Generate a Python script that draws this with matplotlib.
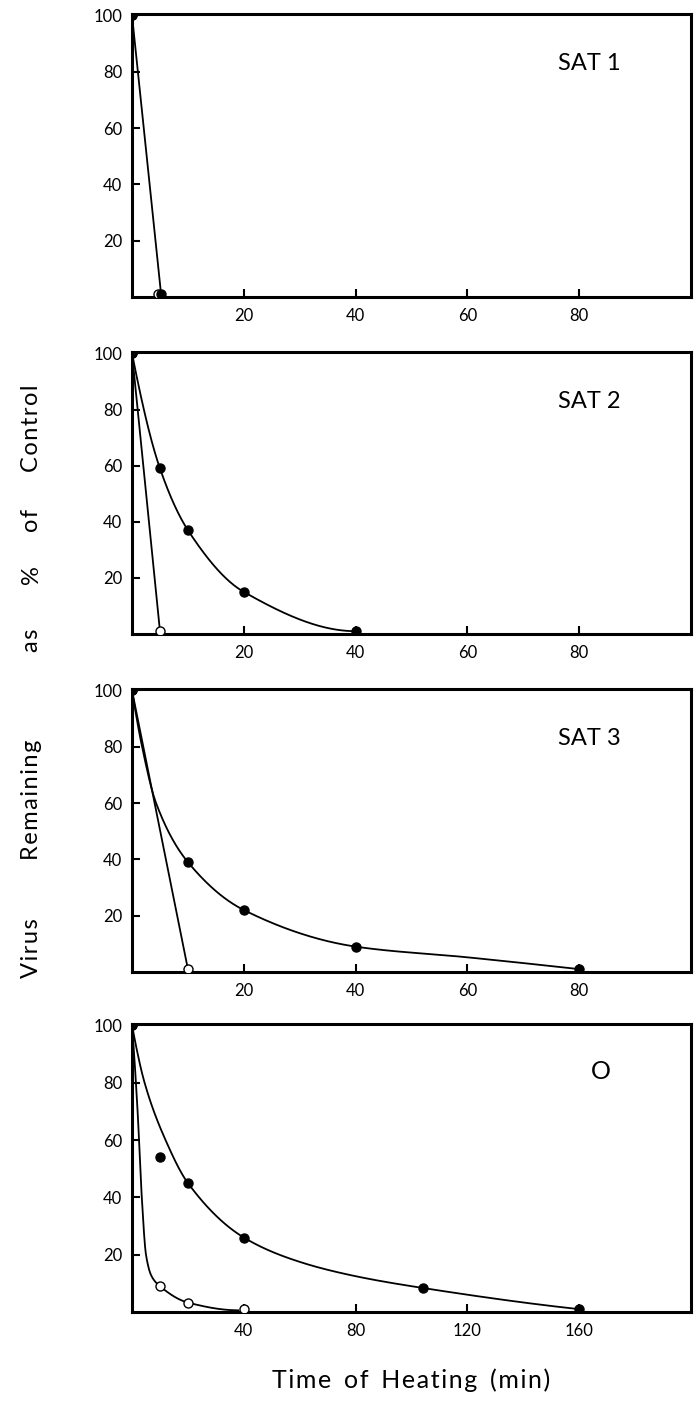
import numpy as np
import matplotlib
matplotlib.use("Agg")
import matplotlib.pyplot as plt

plt.rcParams['font.family'] = ['Lato', 'DejaVu Sans']

# SAT 1
sat1_filled_x = [0, 5.2]
sat1_filled_y = [100, 1]
sat1_open_x = [0, 4.6]
sat1_open_y = [100, 1]

# SAT 2
sat2_filled_x = [0, 5, 10, 20, 40]
sat2_filled_y = [100, 59, 37, 15, 1]
sat2_open_x = [0, 5]
sat2_open_y = [100, 1]

# SAT 3
sat3_filled_x = [0, 10, 20, 40, 80]
sat3_filled_y = [100, 39, 22, 9, 1]
sat3_open_x = [0, 10]
sat3_open_y = [100, 1]
# drawn fit curve
sat3_curve_x = [0, 1.8, 4.3, 10, 20, 40, 60, 80]
sat3_curve_y = [100, 80, 60, 39, 22, 9, 5.2, 1]

# type O
o_filled_x = [0, 10, 20, 40, 104, 160]
o_filled_y = [100, 54, 45, 26, 8.4, 1]
o_open_x = [0, 10, 20, 40]
o_open_y = [100, 9, 3.3, 1]
o_curve_x = [0, 4.5, 12, 20, 40, 60, 80, 104, 160]
o_curve_y = [100, 80, 60, 45, 26, 17.5, 12.5, 8.4, 1]
o_open_curve_x = [0, 2, 3.5, 5, 7, 10, 20, 38]
o_open_curve_y = [100, 70, 40, 20, 12.5, 9, 3.3, 0.6]

labels = ['SAT 1', 'SAT 2', 'SAT 3', 'O']
y_ticks = [20, 40, 60, 80, 100]


def pchip(xk, yk, xs):
    # monotone cubic through the knots, so the curve is smooth like the drawn one
    xk = np.asarray(xk, float)
    yk = np.asarray(yk, float)
    h = np.diff(xk)
    d = np.diff(yk) / h
    n = len(xk)
    m = np.zeros(n)
    if n == 2:
        m[:] = d[0]
    else:
        for k in range(1, n - 1):
            if d[k - 1] * d[k] <= 0:
                m[k] = 0
            else:
                w1 = 2 * h[k] + h[k - 1]
                w2 = h[k] + 2 * h[k - 1]
                m[k] = (w1 + w2) / (w1 / d[k - 1] + w2 / d[k])

        def end(h0, h1, d0, d1):
            s = ((2 * h0 + h1) * d0 - h0 * d1) / (h0 + h1)
            if np.sign(s) != np.sign(d0):
                return 0.0
            if np.sign(d0) != np.sign(d1) and abs(s) > abs(3 * d0):
                return 3 * d0
            return s
        m[0] = end(h[0], h[1], d[0], d[1])
        m[-1] = end(h[-1], h[-2], d[-1], d[-2])
    xs = np.asarray(xs, float)
    i = np.clip(np.searchsorted(xk, xs) - 1, 0, n - 2)
    t = (xs - xk[i]) / h[i]
    h00 = 2 * t**3 - 3 * t**2 + 1
    h10 = t**3 - 2 * t**2 + t
    h01 = -2 * t**3 + 3 * t**2
    h11 = t**3 - t**2
    return h00 * yk[i] + h10 * h[i] * m[i] + h01 * yk[i + 1] + h11 * h[i] * m[i + 1]


def smooth(ax, xk, yk):
    xs = np.linspace(xk[0], xk[-1], 400)
    ax.plot(xs, pchip(xk, yk, xs), color='black', lw=1.3, zorder=2)


def spaced(s):
    # the original lettering is slightly letter-spaced
    return '\u200a'.join(s)


fig = plt.figure(figsize=(6.97, 14.07), dpi=100)
left, width = 0.1894, 0.802
bottoms = [0.7889, 0.5494, 0.3092, 0.0675]
heights = [0.2011, 0.2004, 0.2011, 0.2047]

panels = [
    (sat1_filled_x, sat1_filled_y, sat1_open_x, sat1_open_y, sat1_filled_x, sat1_filled_y, None, None),
    (sat2_filled_x, sat2_filled_y, sat2_open_x, sat2_open_y, sat2_filled_x, sat2_filled_y, sat2_open_x, sat2_open_y),
    (sat3_filled_x, sat3_filled_y, sat3_open_x, sat3_open_y, sat3_curve_x, sat3_curve_y, sat3_open_x, sat3_open_y),
    (o_filled_x, o_filled_y, o_open_x, o_open_y, o_curve_x, o_curve_y, o_open_curve_x, o_open_curve_y),
]

for i, (fx, fy, ox, oy, cx, cy, ocx, ocy) in enumerate(panels):
    ax = fig.add_axes([left, bottoms[i], width, heights[i]])
    smooth(ax, cx, cy)
    if ocx is not None:
        smooth(ax, ocx, ocy)
    ax.plot(ox, oy, 'o', mfc='white', mec='black', mew=1.0, ms=6.5, zorder=3)
    ax.plot(fx, fy, 'o', color='black', ms=6.5, zorder=4)

    if i < 3:
        ax.set_xlim(0, 100)
        ax.set_xticks([20, 40, 60, 80])
        ax.text(0.762, 0.826, labels[i], transform=ax.transAxes,
                fontsize=17, ha='left', va='center')
    else:
        ax.set_xlim(0, 200)
        ax.set_xticks([40, 80, 120, 160])
        ax.text(0.838, 0.834, labels[i], transform=ax.transAxes,
                fontsize=18, ha='center', va='center')
    ax.set_ylim(0, 100.5)
    ax.set_yticks(y_ticks)
    for s in ax.spines.values():
        s.set_linewidth(2.2)
    ax.tick_params(direction='in', length=6, width=1.5, labelsize=12)
    ax.tick_params(axis='x', pad=8)
    ax.tick_params(axis='y', pad=7)

fig.text(0.59, 0.019, spaced('Time') + '  ' + spaced('of') + '  '
         + spaced('Heating') + '  ' + spaced('(min)'), fontsize=18,
         ha='center', va='center')

# y label, words spread out along the left edge
for word, ypix in [('Virus', 948), ('Remaining', 800), ('as', 640),
                   ('%', 575), ('of', 520), ('Control', 428)]:
    fig.text(0.045, 1 - ypix / 1407, spaced(word), fontsize=17, rotation=90,
             ha='center', va='center')

fig.savefig('out.png', dpi=100)
